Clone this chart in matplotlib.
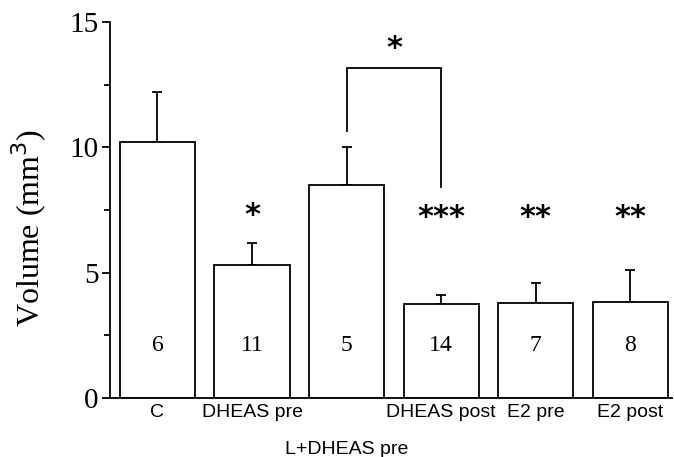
import matplotlib
matplotlib.use("Agg")
import matplotlib.pyplot as plt
from matplotlib.ticker import MultipleLocator

categories = ["C", "DHEAS pre", "L+DHEAS pre", "DHEAS post", "E2 pre", "E2 post"]
means = [10.2, 5.32, 8.48, 3.76, 3.8, 3.84]
errors = [2.0, 0.88, 1.52, 0.36, 0.8, 1.28]
n_labels = ["6", "11", "5", "14", "7", "8"]
stars = ["", "*", "", "***", "**", "**"]
bracket_star = "*"

fig = plt.figure(figsize=(6.74, 4.57), dpi=100)
ax = fig.add_axes([0.163, 0.129, 0.834, 0.823])

x = list(range(len(categories)))
ax.bar(x, means, width=0.794, color="white", edgecolor="black", linewidth=1.3, zorder=2)
ax.errorbar(x, means, yerr=[[0] * len(errors), errors], fmt="none", ecolor="black",
            elinewidth=1.3, capsize=3.6, capthick=1.3, zorder=1)

serif = "Liberation Serif"
for xi, m, n in zip(x, means, n_labels):
    ax.text(xi, 2.1, n, ha="center", va="center", fontsize=17, family=serif)

for xi, s in zip(x, stars):
    if s:
        yy = 7.3 if len(s) == 1 else 7.2
        ax.text(xi, yy, s, ha="center", va="center", fontsize=22, fontweight="bold",
                family="DejaVu Sans")

# significance bracket between L+DHEAS pre and DHEAS post
ax.plot([2, 2, 3, 3], [10.64, 13.16, 13.16, 8.4], color="black", lw=1.3,
        solid_joinstyle="miter")
ax.text(2.5, 13.95, bracket_star, ha="center", va="center", fontsize=22,
        fontweight="bold", family="DejaVu Sans")

ax.set_xlim(-0.503, 5.44)
ax.set_ylim(0, 15)
ax.yaxis.set_major_locator(MultipleLocator(5))
ax.yaxis.set_minor_locator(MultipleLocator(2.5))
ax.spines["top"].set_visible(False)
ax.spines["right"].set_visible(False)
ax.spines["left"].set_linewidth(1.3)
ax.spines["bottom"].set_linewidth(1.3)
ax.tick_params(axis="y", which="major", direction="out", length=6, width=1.3,
               labelsize=21, pad=2)
ax.tick_params(axis="y", which="minor", direction="out", length=4, width=1.3)
for lab in ax.get_yticklabels():
    lab.set_family(serif)
ax.set_xticks(x)
ax.set_xticklabels(categories, fontsize=14, family="Liberation Sans")
ax.tick_params(axis="x", length=0, pad=4)
ax.xaxis.get_major_ticks()[2].set_pad(31)

ax.set_ylabel("Volume (mm$^3$)", fontsize=23, family=serif)
ax.yaxis.set_label_coords(-0.108, 0.452)

fig.savefig("out.png", dpi=100)
